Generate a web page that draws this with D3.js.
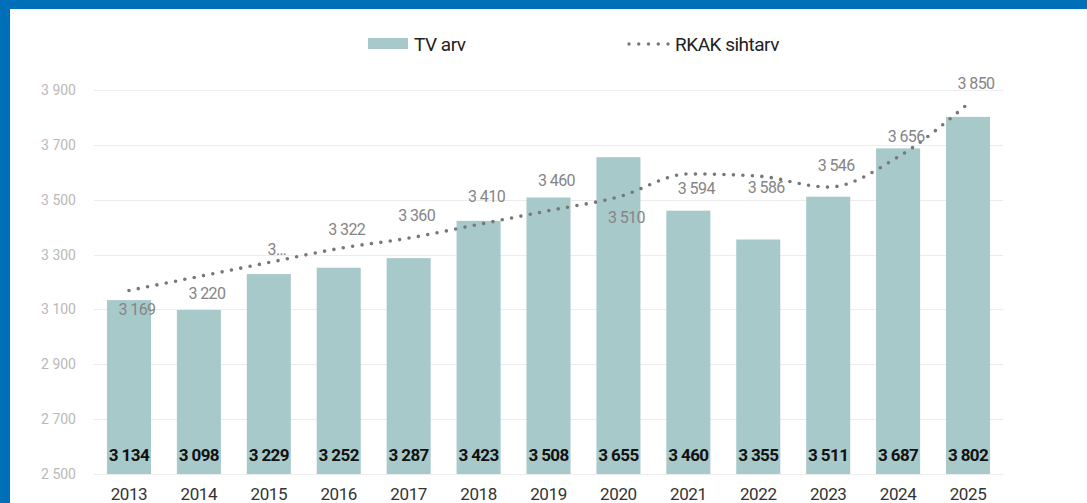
<!DOCTYPE html>
<html>
<head>
<meta charset="utf-8">
<script src="https://cdn.jsdelivr.net/npm/d3@7"></script>
<style>
  html, body { margin: 0; padding: 0; background: #fff; }
  svg { display: block; font-family: Roboto, "Noto Sans", sans-serif; }
</style>
</head>
<body>
<svg id="chart" width="1087" height="503"></svg>
<script>
  // data
  const years = ["2013", "2014", "2015", "2016", "2017", "2018", "2019",
                 "2020", "2021", "2022", "2023", "2024", "2025"];
  const tvArv = [3134, 3098, 3229, 3252, 3287, 3423, 3508, 3655, 3460, 3355, 3511, 3687, 3802];
  const rkakSihtarv = [3169, 3220, 3271, 3322, 3360, 3410, 3460, 3510, 3594, 3586, 3546, 3656, 3850];
  const rkakLabels = ["3 169", "3 220", "3…", "3 322", "3 360", "3 410", "3 460",
                      "3 510", "3 594", "3 586", "3 546", "3 656", "3 850"];
  const yTicks = [2500, 2700, 2900, 3100, 3300, 3500, 3700, 3900];

  // where each line label sits, above (-) or below (+) its point
  const labelShift = [18, 16, -14, -20, -23, -28, -31, 20, 14, 11, -22, -21, -21];

  const fmt = (v) => d3.format(",")(v).replace(/,/g, " ");

  const svg = d3.select("#chart");

  // frame
  svg.append("rect").attr("width", 1087).attr("height", 503).attr("fill", "#fff");
  svg.append("rect").attr("width", 1087).attr("height", 9).attr("fill", "#006fb9");
  svg.append("rect").attr("width", 10).attr("height", 503).attr("fill", "#006fb9");

  const x = d3.scaleBand().domain(years).range([94, 1003]).padding(0);
  const y = d3.scaleLinear().domain([2500, 3900]).range([474, 90]);
  const barW = x.bandwidth() * 0.63;
  const cx = (d) => x(d) + x.bandwidth() / 2;

  // grid
  svg.append("g")
    .selectAll("line")
    .data(yTicks)
    .join("line")
    .attr("x1", 94).attr("x2", 1003)
    .attr("y1", (d) => Math.round(y(d)) + 0.5)
    .attr("y2", (d) => Math.round(y(d)) + 0.5)
    .attr("stroke", "#ececec")
    .attr("stroke-width", 1.2);

  // y axis labels
  svg.append("g")
    .selectAll("text")
    .data(yTicks)
    .join("text")
    .attr("x", 76)
    .attr("y", (d) => y(d) + 5)
    .attr("text-anchor", "end")
    .attr("font-size", 14)
    .attr("fill", "#b9b9b9")
    .text(fmt);

  // bars
  svg.append("g")
    .selectAll("rect")
    .data(tvArv)
    .join("rect")
    .attr("x", (d, i) => cx(years[i]) - barW / 2)
    .attr("width", barW)
    .attr("y", (d) => y(d))
    .attr("height", (d) => y(2500) - y(d))
    .attr("fill", "#a8c9ca");

  // bar value labels
  svg.append("g")
    .selectAll("text")
    .data(tvArv)
    .join("text")
    .attr("x", (d, i) => cx(years[i]))
    .attr("y", y(2500) - 13)
    .attr("text-anchor", "middle")
    .attr("font-size", 17)
    .attr("font-weight", "bold")
    .attr("letter-spacing", -0.6)
    .attr("fill", "#111")
    .text(fmt);

  // year labels
  svg.append("g")
    .selectAll("text")
    .data(years)
    .join("text")
    .attr("x", (d) => cx(d))
    .attr("y", 500)
    .attr("text-anchor", "middle")
    .attr("font-size", 17)
    .attr("letter-spacing", -0.4)
    .attr("fill", "#333")
    .text((d) => d);

  // target line
  const line = d3.line()
    .x((d, i) => cx(years[i]))
    .y((d) => y(d))
    .curve(d3.curveMonotoneX);

  svg.append("path")
    .datum(rkakSihtarv)
    .attr("d", line)
    .attr("fill", "none")
    .attr("stroke", "#777")
    .attr("stroke-width", 3.6)
    .attr("stroke-linecap", "round")
    .attr("stroke-dasharray", "0 9.5");

  // target labels
  svg.append("g")
    .selectAll("text")
    .data(rkakSihtarv)
    .join("text")
    .attr("x", (d, i) => cx(years[i]) + 8)
    .attr("y", (d, i) => y(d) + labelShift[i] + 6)
    .attr("text-anchor", "middle")
    .attr("font-size", 16)
    .attr("letter-spacing", -0.6)
    .attr("fill", "#858585")
    .text((d, i) => rkakLabels[i]);

  // legend
  const legend = svg.append("g");
  legend.append("rect")
    .attr("x", 368).attr("y", 38)
    .attr("width", 40).attr("height", 11)
    .attr("fill", "#a8c9ca");
  legend.append("text")
    .attr("x", 414).attr("y", 50.5)
    .attr("font-size", 19)
    .attr("letter-spacing", -0.5)
    .attr("fill", "#222")
    .text("TV arv");
  legend.append("line")
    .attr("x1", 629).attr("x2", 669)
    .attr("y1", 44).attr("y2", 44)
    .attr("stroke", "#777")
    .attr("stroke-width", 3.4)
    .attr("stroke-linecap", "round")
    .attr("stroke-dasharray", "0 9.75");
  legend.append("text")
    .attr("x", 675).attr("y", 50.5)
    .attr("font-size", 19)
    .attr("letter-spacing", -0.5)
    .attr("fill", "#222")
    .text("RKAK sihtarv");
</script>
</body>
</html>
